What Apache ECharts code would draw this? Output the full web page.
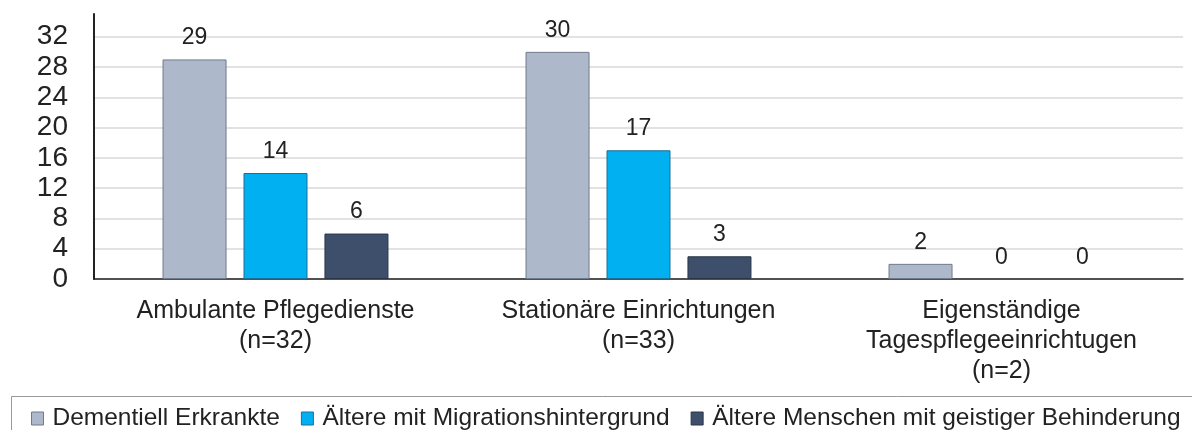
<!DOCTYPE html>
<html>
<head>
<meta charset="utf-8">
<script src="https://cdn.jsdelivr.net/npm/echarts@6/dist/echarts.min.js"></script>
<style>
html,body{margin:0;padding:0;background:#fff;}
#chart{width:1192px;height:430px;}
</style>
</head>
<body>
<div id="chart"></div>
<script>
const categories = ["Ambulante Pflegedienste\n(n=32)", "Stationäre Einrichtungen\n(n=33)", "Eigenständige\nTagespflegeeinrichtugen\n(n=2)"];
const seriesNames = ["Dementiell Erkrankte", "Ältere mit Migrationshintergrund", "Ältere Menschen mit geistiger Behinderung"];
const dementiell = [29, 30, 2];
const migration = [14, 17, 0];
const behinderung = [6, 3, 0];
const colors = ["#adb9ca", "#00b0f0", "#3d4f6b"];
const borders = ["#6f7b8c", "#1f6f95", "#2a3648"];

const FONT = "'Liberation Sans', Arial, Helvetica, sans-serif";
const chart = echarts.init(document.getElementById('chart'), null, {renderer: 'canvas'});

function mkSeries(i, data) {
  return {
    name: seriesNames[i],
    type: 'bar',
    data: data.map(v => v === 0 ? {value: v, itemStyle: {borderWidth: 0}} : v),
    barWidth: 64,
    barGap: '26.5%',
    itemStyle: {color: colors[i], borderColor: borders[i], borderWidth: 1},
    label: {show: true, position: 'top', distance: 10, color: '#222', fontSize: 23, fontFamily: FONT},
    emphasis: {disabled: true},
    animation: false
  };
}

chart.setOption({
  animation: false,
  textStyle: {fontFamily: FONT},
  grid: {left: 94, right: 9, top: 14, bottom: 151, containLabel: false, outerBoundsMode: 'none'},
  legend: {
    left: 26, top: 401, width: 1600,
    itemWidth: 12, itemHeight: 13, itemGap: 21,
    icon: 'rect',
    selectedMode: false,
    textStyle: {fontSize: 24.5, color: '#222', fontFamily: FONT, padding: [0, 0, 0, 4]},
    itemStyle: {borderWidth: 1},
    data: seriesNames
  },
  xAxis: {
    type: 'category',
    data: categories,
    axisLine: {show: true, lineStyle: {color: '#222', width: 1.5}},
    axisTick: {show: false},
    axisLabel: {fontSize: 25, lineHeight: 30, color: '#222', margin: 17, fontFamily: FONT, interval: 0}
  },
  yAxis: {
    type: 'value',
    min: 0, max: 35, interval: 4,
    axisLine: {show: true, lineStyle: {color: '#222', width: 2}},
    axisTick: {show: false},
    axisLabel: {fontSize: 28, color: '#222', margin: 26, fontFamily: FONT, showMaxLabel: false},
    splitLine: {show: true, showMaxLine: false, lineStyle: {color: '#d9d9d9', width: 1.5}}
  },
  graphic: [{
    type: 'rect', left: 9, top: 394, silent: true,
    shape: {x: 0, y: 0, width: 1300, height: 60},
    style: {fill: 'none', stroke: '#999', lineWidth: 1}
  }],
  series: [mkSeries(0, dementiell), mkSeries(1, migration), mkSeries(2, behinderung)]
});
</script>
</body>
</html>
